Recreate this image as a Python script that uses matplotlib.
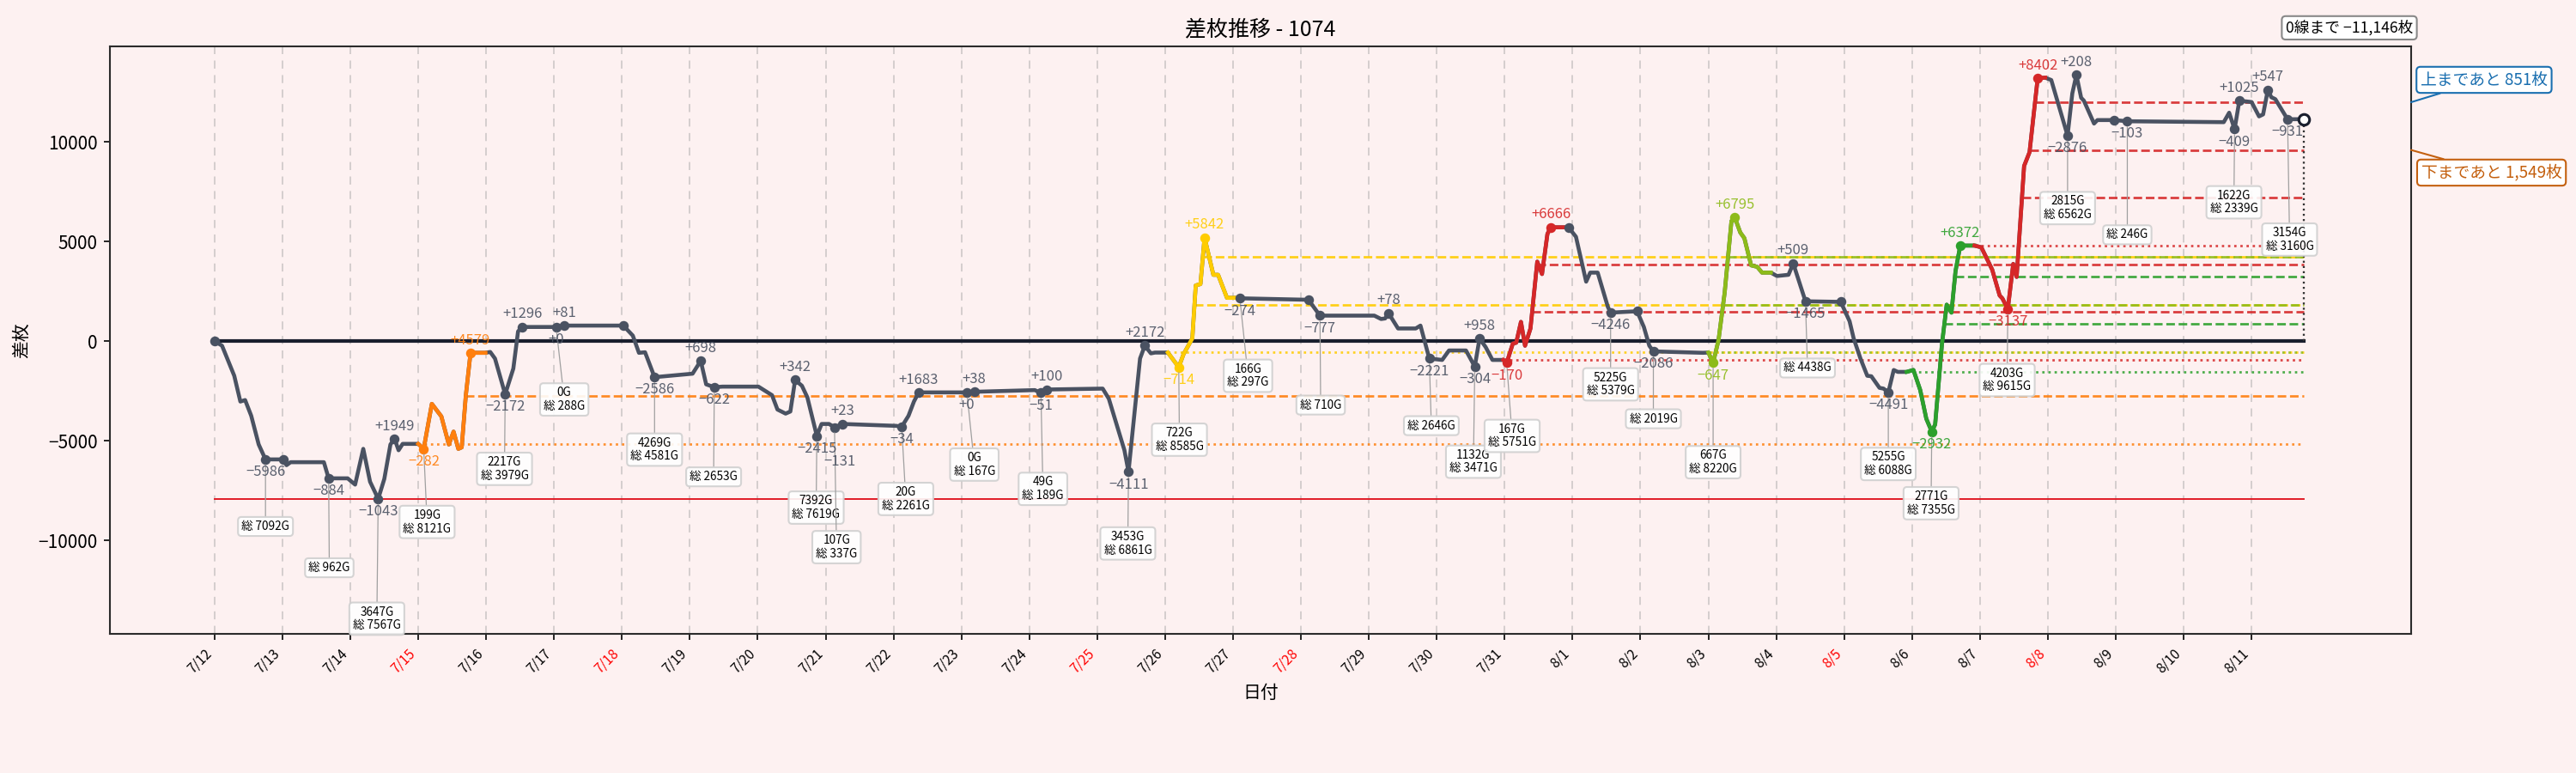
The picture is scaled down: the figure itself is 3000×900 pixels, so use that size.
import numpy as np
import matplotlib
matplotlib.use("Agg")
import matplotlib.pyplot as plt

plt.rcParams['font.family'] = ['Noto Sans CJK JP', 'DejaVu Sans']
plt.rcParams['axes.unicode_minus'] = True

# --- data -------------------------------------------------------------
title = "差枚推移 - 1074"
day_labels = ["7/12", "7/13", "7/14", "7/15", "7/16", "7/17", "7/18", "7/19",
              "7/20", "7/21", "7/22", "7/23", "7/24", "7/25", "7/26", "7/27",
              "7/28", "7/29", "7/30", "7/31", "8/1", "8/2", "8/3", "8/4",
              "8/5", "8/6", "8/7", "8/8", "8/9", "8/10", "8/11"]
special_days = ["7/15", "7/18", "7/25", "7/28", "8/5", "8/8"]

# position on the day axis (0 = 7/12) and cumulative coin difference
day_pos = [0.00, 0.11, 0.29, 0.38, 0.45, 0.54, 0.65, 0.75, 1.01, 1.06,
           1.12, 1.61, 1.68, 1.96, 2.07, 2.19, 2.29, 2.41, 2.50, 2.59,
           2.65, 2.71, 2.77, 3.00, 3.08, 3.20, 3.34, 3.45, 3.52, 3.59,
           3.64, 3.70, 3.77, 3.99, 4.06, 4.13, 4.28, 4.40, 4.47, 4.53,
           5.03, 5.15, 6.02, 6.16, 6.25, 6.34, 6.48, 7.04, 7.16, 7.24,
           7.36, 7.48, 8.01, 8.21, 8.29, 8.41, 8.48, 8.55, 8.65, 8.73,
           8.87, 8.94, 9.05, 9.13, 9.25, 10.04, 10.12, 10.22, 10.30, 10.37,
           11.08, 11.19, 12.08, 12.17, 12.26, 13.08, 13.17, 13.40, 13.46, 13.63,
           13.70, 13.79, 13.85, 14.04, 14.20, 14.27, 14.40, 14.45, 14.52, 14.58,
           14.71, 14.78, 14.91, 15.04, 15.10, 16.11, 16.28, 17.08, 17.18, 17.24,
           17.29, 17.43, 17.69, 17.76, 17.89, 18.08, 18.18, 18.43, 18.56, 18.63,
           18.72, 18.82, 18.98, 19.03, 19.12, 19.17, 19.24, 19.30, 19.38, 19.48,
           19.55, 19.63, 19.68, 19.89, 19.94, 20.05, 20.20, 20.26, 20.37, 20.52,
           20.56, 20.95, 21.05, 21.13, 21.19, 21.92, 22.00, 22.07, 22.15, 22.24,
           22.34, 22.39, 22.47, 22.53, 22.63, 22.72, 22.79, 22.92, 23.01, 23.18,
           23.25, 23.43, 23.95, 24.08, 24.14, 24.24, 24.34, 24.40, 24.52, 24.58,
           24.65, 24.73, 24.79, 24.92, 25.02, 25.12, 25.21, 25.29, 25.34, 25.44,
           25.51, 25.58, 25.64, 25.71, 25.92, 26.02, 26.18, 26.29, 26.33, 26.41,
           26.49, 26.54, 26.65, 26.73, 26.85, 26.96, 27.05, 27.29, 27.36, 27.42,
           27.49, 27.53, 27.68, 27.73, 27.98, 28.17, 29.59, 29.67, 29.75, 29.82,
           30.00, 30.11, 30.17, 30.24, 30.29, 30.35, 30.53, 30.77]
diff_coins = [0, -230, -1740, -3035, -2960, -3750, -5190, -5940, -5940, -6230,
              -6080, -6080, -6890, -6890, -7205, -5410, -7060, -7920, -6920, -5190,
              -4900, -5480, -5160, -5160, -5410, -3150, -3780, -5190, -4545, -5410,
              -5335, -2745, -587, -587, -545, -875, -2670, -1380, 490, 710,
              710, 780, 780, 275, -587, -560, -1810, -1635, -990, -2170,
              -2315, -2285, -2285, -2715, -3435, -3640, -3535, -1955, -2240, -2820,
              -4760, -4160, -4160, -4330, -4160, -4255, -4300, -3750, -3035, -2575,
              -2575, -2545, -2460, -2600, -2430, -2385, -2890, -5480, -6560, -875,
              -230, -615, -575, -575, -1310, -660, 135, 2795, 2865, 5200,
              3330, 3330, 2175, 2175, 2150, 2075, 1280, 1280, 1110, 1140,
              1400, 635, 635, 780, -875, -945, -470, -470, -1280, 135,
              -300, -945, -945, -1090, -125, -80, 965, -230, 635, 3990,
              3370, 5385, 5715, 5715, 5715, 5240, 2985, 3440, 3440, 1715,
              1430, 1500, 710, -230, -515, -587, -575, -1090, 60, 2435,
              6030, 6200, 5455, 5170, 3805, 3730, 3440, 3440, 3270, 3330,
              3900, 2000, 1970, 995, 135, -875, -1740, -1765, -2345, -2385,
              -2575, -1450, -1545, -1545, -1450, -2455, -3900, -4545, -4185, -155,
              1830, 1430, 3515, 4797, 4797, 4710, 3590, 2290, 2145, 1615,
              3875, 3225, 8795, 9485, 13200, 13230, 13110, 10320, 12440, 13370,
              12220, 12075, 10925, 11100, 11100, 11040, 10995, 11470, 10640, 12075,
              12005, 11285, 11385, 12620, 12250, 12150, 11140, 11146]

# streak segments: (first index, last index, colour)
streak_first = [23, 83, 112, 136, 163, 174]
streak_last = [33, 93, 123, 147, 174, 185]
streak_color = ["#ff7f0e", "#ffcc00", "#d62728", "#8dbb1a", "#2ca02c", "#d62728"]
streak_step = 2400

# markers: point index and label
mark_idx = [0, 7, 8, 12, 17, 20, 24, 32, 36, 39, 40, 41, 42, 46, 48, 50, 57,
            60, 63, 64, 66, 69, 70, 71, 73, 74, 78, 80, 84, 89, 94, 95, 96,
            100, 104, 108, 109, 113, 122, 124, 130, 131, 134, 137, 141, 150,
            151, 152, 160, 167, 173, 179, 184, 187, 189, 194, 195, 198, 199,
            203, 206]
mark_text = ["", "-5986", "", "-884", "-1043", "+1949", "-282", "+4579",
             "-2172", "+1296", "+0", "+81", "", "-2586", "+698", "-622", "+342",
             "-2415", "-131", "+23", "-34", "+1683", "+0", "+38", "-51", "+100",
             "-4111", "+2172", "-714", "+5842", "-274", "", "-777",
             "+78", "-2221", "-304", "+958", "-170", "+6666", "", "-4246", "",
             "-2086", "-647", "+6795", "+509",
             "-1465", "", "-4491", "-2932", "+6372", "-3137", "+8402", "-2876",
             "+208", "", "-103", "-409", "+1025",
             "+547", "-931"]
# labels pushed further down to stay clear of a neighbour
low_labels = ["-131"]

# game-count boxes: point index, text, box centre
box_idx = [7, 12, 17, 24, 36, 40, 46, 50, 60, 63, 66, 70, 73, 78, 84, 94, 96,
           104, 108, 113, 130, 134, 137, 151, 160, 167, 179, 187, 195, 198, 206]
box_text = ["総 7092G", "総 962G", "3647G\n総 7567G", "199G\n総 8121G",
            "2217G\n総 3979G", "0G\n総 288G", "4269G\n総 4581G", "総 2653G",
            "7392G\n総 7619G", "107G\n総 337G", "20G\n総 2261G", "0G\n総 167G",
            "49G\n総 189G", "3453G\n総 6861G", "722G\n総 8585G", "166G\n総 297G",
            "総 710G", "総 2646G", "1132G\n総 3471G", "167G\n総 5751G",
            "5225G\n総 5379G", "総 2019G", "667G\n総 8220G", "総 4438G",
            "5255G\n総 6088G", "2771G\n総 7355G", "4203G\n総 9615G",
            "2815G\n総 6562G", "総 246G", "1622G\n総 2339G", "3154G\n総 3160G"]
box_x = [0.75, 1.69, 2.39, 3.13, 4.27, 5.15, 6.48, 7.35, 8.86, 9.16, 10.18,
         11.19, 12.20, 13.45, 14.21, 15.22, 16.29, 17.92, 18.54, 19.11, 20.56,
         21.19, 22.07, 23.46, 24.65, 25.28, 26.40, 27.29, 28.17, 29.74, 30.56]
box_y = [-9308, -11380, -13940, -9080, -6415, -2930, -5450, -6815, -8360,
         -10345, -7925, -6200, -7420, -10160, -4950, -1740, -3210, -4245,
         -6055, -4760, -2170, -3900, -6080, -1350, -6170, -8140, -1955, 6680,
         5340, 6970, 5100]

upper_left = 851
lower_left = 1549

# --- plot -------------------------------------------------------------
BG = "#fdf1f1"
GRAY = "#4a5262"

fig = plt.figure(figsize=(20, 6), dpi=150, facecolor=BG)
ax = fig.add_axes([0.0427, 0.18, 0.8933, 0.76])
ax.set_facecolor(BG)

x = np.array(day_pos)
y = np.array(diff_coins)
x_end = x[-1]
y_end = y[-1]

for d in range(len(day_labels)):
    ax.axvline(d, color="#d3cccc", lw=0.9, ls=(0, (5, 4)), zorder=0)

ax.plot([0, x_end], [0, 0], color="#1a1f2e", lw=2.0, zorder=2)
ax.plot([0, x_end], [y.min(), y.min()], color="#e0141e", lw=0.9, zorder=2)

# streak levels
for first, last, col in zip(streak_first, streak_last, streak_color):
    sx = x[first:last + 1]
    sy = y[first:last + 1]
    start = sy[0]
    ax.plot([sx[0], x_end], [start, start], color=col, lw=1.3, ls=":",
            alpha=0.85, zorder=1)
    k = 1
    while start + k * streak_step < sy.max():
        lev = start + k * streak_step
        i = int(np.argmax(sy >= lev))
        cx = np.interp(lev, [sy[i - 1], sy[i]], [sx[i - 1], sx[i]])
        ax.plot([cx, x_end], [lev, lev], color=col, lw=1.3, ls="--",
                alpha=0.9, zorder=1)
        k += 1

ax.plot(x, y, color=GRAY, lw=2.2, zorder=3, solid_joinstyle="round")
seg_color = [GRAY] * len(x)
for first, last, col in zip(streak_first, streak_last, streak_color):
    ax.plot(x[first:last + 1], y[first:last + 1], color=col, lw=2.2, zorder=4)
    for i in range(first + 1, last + 1):
        seg_color[i] = col

for i, txt in zip(mark_idx, mark_text):
    c = seg_color[i]
    ax.plot(x[i], y[i], "o", color=c, ms=4.5, zorder=5)
    if not txt:
        continue
    lbl = txt.replace("-", "\u2212")
    if txt.startswith("+") and txt != "+0":
        ax.annotate(lbl, (x[i], y[i]), xytext=(0, 3), textcoords="offset points",
                    ha="center", va="bottom", fontsize=8, color=c, alpha=0.9,
                    zorder=6)
    elif txt in low_labels:
        ax.annotate(lbl, (x[i], y[i]), xytext=(3, -15),
                    textcoords="offset points",
                    ha="center", va="top", fontsize=8, color=c, alpha=0.9,
                    zorder=6)
    else:
        ax.annotate(lbl, (x[i], y[i]), xytext=(0, -3),
                    textcoords="offset points",
                    ha="center", va="top", fontsize=8, color=c, alpha=0.9,
                    zorder=6)

for i, txt, bx, by in zip(box_idx, box_text, box_x, box_y):
    ax.annotate(txt, (x[i], y[i]), xytext=(bx, by), textcoords="data",
                ha="center", va="center", fontsize=6.5, linespacing=1.15,
                bbox=dict(boxstyle="round,pad=0.3", fc="white", ec="#d0d0d0",
                          lw=1.0, alpha=0.9),
                arrowprops=dict(arrowstyle="-", color="#a0a0a0", lw=0.6,
                                shrinkA=0, shrinkB=3),
                zorder=5)

# current point
ax.plot(x_end, y_end, "o", ms=6, mfc="white", mec="#1a1f2e", mew=1.5, zorder=7)
ax.plot([x_end, x_end], [0, y_end], color="#333333", lw=1.1, ls=":", zorder=2)

ax.set_xlim(-1.54, 32.35)
ax.set_ylim(-14700, 14800)
ax.set_yticks([-10000, -5000, 0, 5000, 10000])
ax.set_xticks(range(len(day_labels)))
ax.set_xticklabels(day_labels, rotation=45, ha="right", fontsize=7.5)
for tl, lab in zip(ax.get_xticklabels(), day_labels):
    if lab in special_days:
        tl.set_color("red")
ax.tick_params(axis="y", labelsize=10)
for sp in ax.spines.values():
    sp.set_color("#2b2b2b")
    sp.set_linewidth(1.0)

ax.set_title(title, fontsize=12)
ax.set_xlabel("日付", fontsize=10)
ax.set_ylabel("差枚", fontsize=10)

fig.text(0.912, 0.964, f"0線まで {-y_end:,}枚".replace("-", "\u2212"),
         ha="center", va="center", fontsize=8.5,
         bbox=dict(boxstyle="round,pad=0.25", fc="white", ec="#888888", lw=1.0))

up_col = "#1a6fb0"
low_col = "#c4600f"
ax.annotate(f"上まであと {upper_left:,}枚", xy=(1.0, y_end + upper_left),
            xycoords=("axes fraction", "data"), xytext=(0.9643, 0.8967),
            textcoords="figure fraction", ha="center", va="center",
            fontsize=9, color=up_col,
            bbox=dict(boxstyle="round,pad=0.25", fc="white", ec=up_col, lw=1.0),
            arrowprops=dict(arrowstyle="-", color=up_col, lw=1.0,
                            shrinkA=0, shrinkB=0))
ax.annotate(f"下まであと {lower_left:,}枚", xy=(1.0, y_end - lower_left),
            xycoords=("axes fraction", "data"), xytext=(0.9672, 0.7767),
            textcoords="figure fraction", ha="center", va="center",
            fontsize=9, color=low_col,
            bbox=dict(boxstyle="round,pad=0.25", fc="white", ec=low_col, lw=1.0),
            arrowprops=dict(arrowstyle="-", color=low_col, lw=1.0,
                            shrinkA=0, shrinkB=0))

fig.savefig("out.png", dpi=150, facecolor=BG)
